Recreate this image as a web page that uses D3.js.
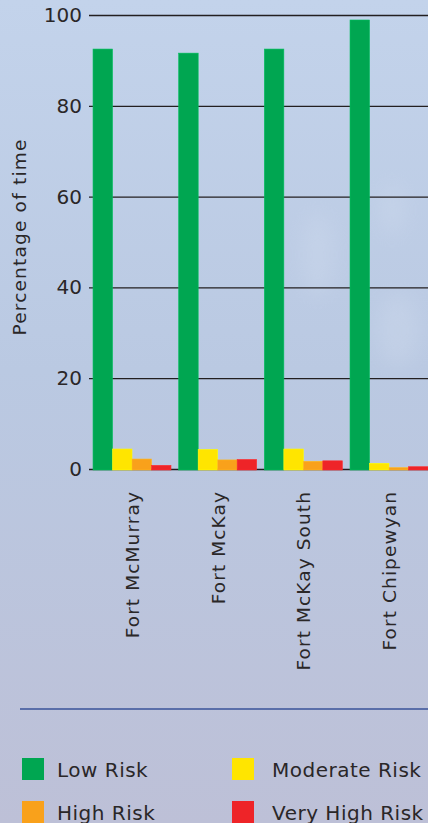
<!DOCTYPE html>
<html>
<head>
<meta charset="utf-8">
<script src="https://cdn.jsdelivr.net/npm/d3@7"></script>
<style>
  html, body { margin: 0; padding: 0; overflow: hidden; }
  svg { display: block; font-family: "DejaVu Sans", "Noto Sans", sans-serif; }
</style>
</head>
<body>
<div id="chart"></div>
<script>
const sites = ["Fort McMurray", "Fort McKay", "Fort McKay South", "Fort Chipewyan"];
const risks = ["Low Risk", "Moderate Risk", "High Risk", "Very High Risk"];
const riskColors = ["#00a651", "#ffe500", "#f9a11b", "#ee2428"];
const lowRisk = [92.5, 91.6, 92.5, 98.9];
const moderateRisk = [4.4, 4.3, 4.4, 1.25];
const highRisk = [2.2, 2.0, 1.7, 0.3];
const veryHighRisk = [0.8, 2.1, 1.8, 0.5];
const yTicks = [0, 20, 40, 60, 80, 100];

const series = [lowRisk, moderateRisk, highRisk, veryHighRisk];
const rows = sites.map((s, i) => ({ site: s, values: series.map((v, k) => ({ risk: risks[k], value: v[i] })) }));

const W = 428, H = 823;
const ink = "#2a2728";
const svg = d3.select("#chart").append("svg").attr("width", W).attr("height", H);

// background sky
const defs = svg.append("defs");
const grad = defs.append("linearGradient").attr("id", "sky").attr("x1", 0).attr("y1", 0).attr("x2", 0).attr("y2", 1);
grad.append("stop").attr("offset", "0%").attr("stop-color", "#c3d3eb");
grad.append("stop").attr("offset", "45%").attr("stop-color", "#bac9e2");
grad.append("stop").attr("offset", "100%").attr("stop-color", "#bdc0d7");
defs.append("filter").attr("id", "blur").append("feGaussianBlur").attr("stdDeviation", 10);
svg.append("rect").attr("width", W).attr("height", H).attr("fill", "url(#sky)");
const clouds = svg.append("g").attr("filter", "url(#blur)").attr("fill", "#d4dff0").attr("opacity", 0.3);
clouds.append("ellipse").attr("cx", 318).attr("cy", 255).attr("rx", 16).attr("ry", 42);
clouds.append("ellipse").attr("cx", 392).attr("cy", 210).attr("rx", 12).attr("ry", 26);
clouds.append("ellipse").attr("cx", 398).attr("cy", 330).attr("rx", 22).attr("ry", 36);

const x0 = d3.scaleBand().domain(sites).range([89, 432]).paddingInner(0.09).paddingOuter(0.047);
const x1 = d3.scaleBand().domain(risks).range([0, x0.bandwidth()]);
const y = d3.scaleLinear().domain([0, 100]).range([469, 15]);
const color = d3.scaleOrdinal().domain(risks).range(riskColors);

// gridlines + tick labels
const yAxis = svg.append("g").attr("transform", "translate(89,0)")
  .call(d3.axisLeft(y).tickValues(yTicks).tickSize(-(W - 89)).tickSizeOuter(0).tickPadding(7));
yAxis.select(".domain").remove();
yAxis.selectAll(".tick line").attr("stroke", "#231f20").attr("stroke-width", 1.3);
yAxis.selectAll(".tick text").attr("fill", ink).attr("font-size", 20)
  .attr("font-family", "'DejaVu Sans', sans-serif");

svg.append("text")
  .attr("transform", `translate(26,${237}) rotate(-90)`)
  .attr("text-anchor", "middle")
  .attr("fill", ink).attr("font-size", 18.5).attr("letter-spacing", 1.2)
  .text("Percentage of time");

// bars
const groups = svg.append("g").selectAll("g").data(rows).join("g")
  .attr("transform", d => `translate(${x0(d.site)},0)`);
groups.selectAll("rect").data(d => d.values).join("rect")
  .attr("x", d => x1(d.risk))
  .attr("width", x1.bandwidth())
  .attr("y", d => y(d.value))
  .attr("height", d => 470 - y(d.value))
  .attr("fill", d => color(d.risk))
  .attr("stroke", d => d3.color(color(d.risk)).brighter(0.4))
  .attr("stroke-width", 0.6);

// category labels
svg.append("g").selectAll("text").data(sites).join("text")
  .attr("transform", d => `translate(${x0(d) + x0.bandwidth() / 2 + 7},491) rotate(-90)`)
  .attr("text-anchor", "end")
  .attr("fill", ink).attr("font-size", 18.5).attr("letter-spacing", 1.1)
  .text(d => d);

// separator
svg.append("line").attr("x1", 20).attr("x2", W).attr("y1", 709).attr("y2", 709)
  .attr("stroke", "#5a6ea9").attr("stroke-width", 2);

// legend
const legendPos = [[22, 758, 35], [232, 758, 40], [22, 801, 35], [232, 801, 40]];
const legendOrder = ["Low Risk", "Moderate Risk", "High Risk", "Very High Risk"];
const legend = svg.append("g").selectAll("g").data(legendOrder).join("g")
  .attr("transform", (d, i) => `translate(${legendPos[i][0]},${legendPos[i][1]})`);
legend.append("rect").attr("width", 22).attr("height", 22).attr("fill", d => color(d));
legend.append("text").attr("x", (d, i) => legendPos[i][2]).attr("y", 18.5).attr("fill", ink)
  .attr("font-size", 20).attr("letter-spacing", 0.5).text(d => d);
</script>
</body>
</html>
